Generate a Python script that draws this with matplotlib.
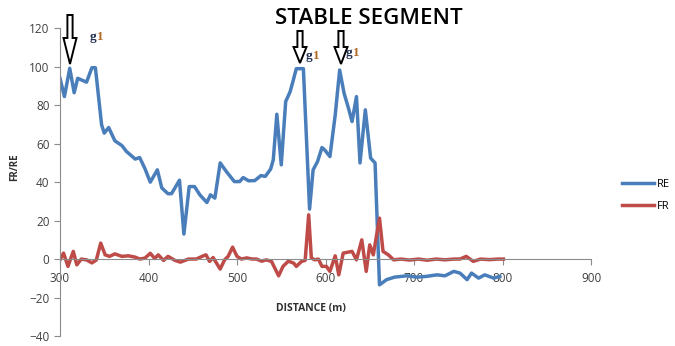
import matplotlib
matplotlib.use('Agg')
import matplotlib.pyplot as plt
from matplotlib.patches import Polygon

plt.rcParams['font.family'] = ['Open Sans', 'DejaVu Sans']

# ---- data ----
re_x = [300, 305, 311, 316, 320, 330, 336, 340, 347, 350, 355, 362, 370, 375,
        385, 390, 396, 402, 410, 415, 422, 426, 435, 440, 446, 452, 458, 466,
        470, 475, 481, 488, 497, 503, 507, 513, 520, 527, 532, 538, 541, 545,
        550, 555, 560, 563, 567, 575, 582, 586, 591, 596, 599, 605, 611, 616,
        621, 626, 630, 635, 639, 645, 651, 656, 661, 669, 678, 692, 703, 714,
        726, 735, 745, 752, 760, 765, 773, 780, 790, 797]
re_y = [94, 84.5, 99.2, 86.5, 94, 92, 99.5, 99.5, 69.8, 65.5, 68.4, 61.5, 59, 56,
        52, 52.8, 47, 40, 46.4, 37, 34, 34, 41, 13, 37.7, 37.7, 33.4, 29.4,
        33.4, 31.7, 50, 45.5, 40.3, 40.3, 42.4, 40.7, 40.8, 43.4, 43, 46.8, 51.6, 75.3,
        49, 81.9, 87, 92, 99, 99, 26, 46.4, 50.7, 58, 56.8, 53.3, 75, 98.3,
        86.2, 78.4, 71.5, 84.5, 50, 77.6, 52.5, 50, -13.4, -10.7, -9.4, -8.7, -9.4, -9,
        -8.2, -8.7, -6.4, -7.3, -10.7, -7.3, -9.9, -8.2, -9.9, -9]

fr_x = [300, 304, 309, 315, 319, 324, 330, 336, 341, 346, 351, 356, 362, 370,
        377, 385, 390, 396, 402, 407, 411, 417, 422, 430, 436, 445, 454, 462,
        465, 469, 473, 481, 486, 490, 495, 500, 505, 511, 517, 522, 528, 533,
        539, 547, 552, 558, 564, 567, 573, 577, 581, 584, 588, 592, 596, 601,
        605, 611, 615, 620, 630, 635, 641, 646, 650, 654, 661, 665, 671, 677,
        685, 695, 705, 715, 725, 735, 745, 752, 759, 767, 775, 785, 795, 801]
fr_y = [-0.4, 3.1, -3.8, 4, -3, 0, -0.4, -2, -0.5, 8.3, 2.2, 1.4, 2.7, 1.4,
        1.7, 1, 0, 0.5, 3, 0.3, 2.2, -0.7, 1.4, -0.7, -1.6, 0, 0, 1.7,
        2.2, -1.2, 0.8, -5.2, -0.4, 1.4, 6.2, 1.4, 0, 0.6, 0, 0, -1.1, -0.4,
        -1.2, -8.7, -3.8, -1.1, -2.1, -3.8, -1.2, -0.7, 23, 0.5, -0.4, 0, -3.8, -3.8,
        -6.4, 1.7, -8.2, 3.1, 4, -0.4, 10, -6.4, 7.4, 2.2, 21.3, 4, 2.2, -0.4,
        0, -0.5, 0, -0.6, 0, -0.4, 0, 0, 1.4, -1.2, 0, -0.3, 0, 0]

x_ticks = [300, 400, 500, 600, 700, 800, 900]
y_ticks = [-40, -20, 0, 20, 40, 60, 80, 100, 120]

W, H = 675, 346
fig = plt.figure(figsize=(W / 100, H / 100), dpi=100)
ax = fig.add_axes([60 / W, 1 - 336 / H, (591 - 60) / W, (336 - 28.3) / H])

ax.plot(re_x, re_y, color='#4A7EBB', lw=2.5, label='RE', solid_joinstyle='round')
ax.plot(fr_x, fr_y, color='#BE4B48', lw=2.5, label='FR', solid_joinstyle='round')

ax.set_xlim(300, 900)
ax.set_ylim(-40, 120)
ax.set_xticks(x_ticks)
ax.set_yticks(y_ticks)

for s in ['top', 'right']:
    ax.spines[s].set_visible(False)
ax.spines['bottom'].set_position(('data', 0))
ax.spines['bottom'].set_color('#8c8c8c')
ax.spines['left'].set_color('#8c8c8c')
ax.tick_params(axis='both', colors='#8c8c8c', labelcolor='#404040',
               labelsize=8.5, length=4, width=0.8, direction='out')
ax.tick_params(axis='x', pad=5)

# legend on the right
ax.legend(loc='upper left', bbox_to_anchor=(612 / W, 1 - 169 / H),
          bbox_transform=fig.transFigure, frameon=False, fontsize=8,
          handlelength=2.9, handletextpad=0.2, labelspacing=0.95)

# labels
fig.text(15 / W, 1 - 167 / H, 'FR/RE', rotation=90, ha='center', va='center',
         fontsize=7, fontweight='bold', color='#303030')
fig.text(311 / W, 1 - 308 / H, 'DISTANCE (m)', ha='center', va='center',
         fontsize=7.5, fontweight='bold', color='#303030')
fig.text(369 / W, 1 - 19 / H, 'STABLE SEGMENT', ha='center', va='center',
         fontsize=16, fontweight='semibold', color='black')


# hollow down arrows (pixel coordinates of the figure)
def down_arrow(cx, top, head, tip, sw=2.6, hw=6.5):
    pts = [(cx - sw, top), (cx + sw, top), (cx + sw, head), (cx + hw, head),
           (cx, tip), (cx - hw, head), (cx - sw, head)]
    pts = [(px / W, 1 - py / H) for px, py in pts]
    fig.patches.append(Polygon(pts, closed=True, transform=fig.transFigure,
                               facecolor='white', edgecolor='black', lw=1.4))


down_arrow(70, 15, 38, 64)
down_arrow(300, 31, 47, 63)
down_arrow(341, 31, 47, 64)

# "g1" notes: baseline pixel positions
for gx, gy in [(90, 40), (306, 59), (346, 56)]:
    fig.text(gx / W, 1 - gy / H, 'g', fontsize=9.5, fontweight='bold',
             family='Liberation Serif', color='#1F2D50', va='baseline')
    fig.text((gx + 6.5) / W, 1 - gy / H, '1', fontsize=9.5, fontweight='bold',
             family='Liberation Serif', color='#B0661E', va='baseline')

fig.savefig('out.png', dpi=100)
